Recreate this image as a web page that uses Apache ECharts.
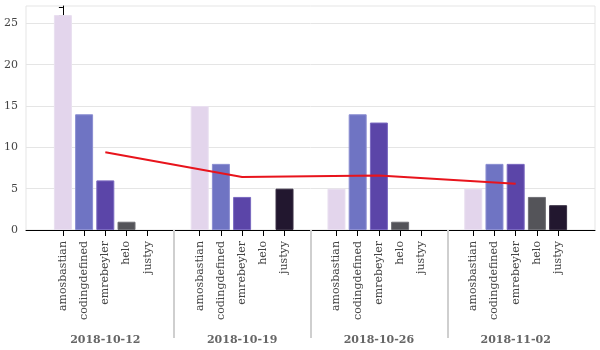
<!DOCTYPE html>
<html>
<head>
<meta charset="utf-8">
<script src="https://cdn.jsdelivr.net/npm/echarts@6/dist/echarts.min.js"></script>
<style>
  html, body { margin: 0; padding: 0; background: #fff; }
  #chart { width: 600px; height: 350px; }
</style>
</head>
<body>
<div id="chart"></div>
<script>
const weeks = ['2018-10-12', '2018-10-19', '2018-10-26', '2018-11-02']
const users = ['amosbastian', 'codingdefined', 'emrebeyler', 'helo', 'justyy']
// counts per user, one value per week
const amosbastian = [26, 15, 5, 5]
const codingdefined = [14, 8, 14, 8]
const emrebeyler = [6, 4, 13, 8]
const helo = [1, 0, 1, 4]
const justyy = [0, 5, 0, 3]
const weekAverage = [9.4, 6.4, 6.6, 5.6]
const yTicks = [0, 5, 10, 15, 20, 25]

const userColors = ['#e3d5ec', '#6f74c3', '#5b45a8', '#545459', '#22172f']
const userBorders = ['#e9dff0', '#8c8fd2', '#7a69c0', '#707075', '#3a3045']

// nested category layout: one unit per user, gap between weeks
const GROUP_PAD = 1.45
const PITCH = users.length + GROUP_PAD
const EDGE = 1.74
const xMin = -EDGE
const xMax = (weeks.length - 1) * PITCH + users.length - 1 + EDGE

const pos = (w, u) => w * PITCH + u
const catTicks = []
const catNames = {}
weeks.forEach((w, wi) => {
  users.forEach((u, ui) => {
    const p = +pos(wi, ui).toFixed(3)
    catTicks.push(p)
    catNames[p] = u
  })
})
const weekCenters = weeks.map((w, wi) => +pos(wi, 2).toFixed(3))
const weekNames = {}
weekCenters.forEach((p, i) => { weekNames[p] = weeks[i] })
const separators = weeks.slice(1).map((w, wi) => +(pos(wi, users.length - 1) + (GROUP_PAD + 1) / 2).toFixed(3))

const allCounts = [amosbastian, codingdefined, emrebeyler, helo, justyy]

const font = 'DejaVu Serif'

const chart = echarts.init(document.getElementById('chart'))

const barSeries = users.map((u, ui) => ({
  name: u,
  type: 'bar',
  barWidth: 18,
  barGap: '-100%',
  itemStyle: { color: userColors[ui], borderColor: userBorders[ui], borderWidth: 1 },
  data: allCounts[ui].map((v, wi) => ({
    value: [pos(wi, ui), v],
    itemStyle: v === 0 ? { borderWidth: 0 } : undefined
  }))
}))

const baseX = {
  type: 'value',
  min: xMin,
  max: xMax,
  splitLine: { show: false }
}

chart.setOption({
  animation: false,
  grid: {
    left: 26, right: 5, top: 6, bottom: 120,
    show: true, borderColor: '#e5e5e5', borderWidth: 1
  },
  xAxis: [
    Object.assign({}, baseX, {
      axisLine: { show: true, onZero: false, lineStyle: { color: '#000', width: 1 } },
      axisTick: { show: true, length: 6, customValues: catTicks, lineStyle: { color: '#000' } },
      axisLabel: {
        show: true, rotate: 90, margin: 11,
        customValues: catTicks,
        formatter: v => catNames[+v.toFixed(3)] || '',
        fontFamily: font, fontSize: 11, color: '#444'
      }
    }),
    Object.assign({}, baseX, {
      position: 'bottom',
      offset: 2,
      axisLine: { show: false },
      axisTick: { show: true, length: 108, customValues: separators, lineStyle: { color: '#cfcfcf', width: 2 } },
      axisLabel: {
        show: true, margin: 103,
        customValues: weekCenters,
        formatter: v => weekNames[+v.toFixed(3)] || '',
        fontFamily: font, fontSize: 11, fontWeight: 'bold', color: '#666'
      }
    })
  ],
  yAxis: {
    type: 'value',
    min: 0,
    max: 27.1,
    interval: 5,
    axisLine: { show: true, lineStyle: { color: '#000' } },
    axisTick: { show: true, length: 6, customValues: yTicks, lineStyle: { color: '#000' } },
    minorTick: { show: true, splitNumber: 5, length: 4, lineStyle: { color: '#000' } },
    axisLabel: {
      margin: 8, fontFamily: font, fontSize: 11, color: '#444',
      customValues: yTicks
    },
    splitLine: { show: true, lineStyle: { color: '#e5e5e5', width: 1 } }
  },
  series: barSeries.concat([{
    name: 'average',
    type: 'line',
    symbol: 'none',
    lineStyle: { color: '#e8141c', width: 2 },
    data: weekAverage.map((v, wi) => [pos(wi, 2), v]),
    z: 5
  }])
})
</script>
</body>
</html>
